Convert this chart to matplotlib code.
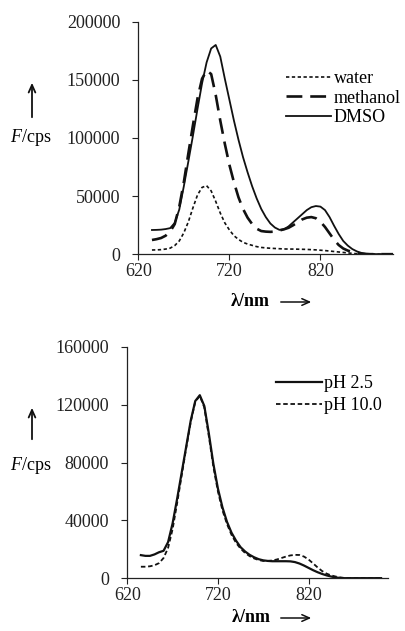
import numpy as np
import matplotlib
matplotlib.use("Agg")
import matplotlib.pyplot as plt

plt.rcParams['font.family'] = ['Liberation Serif', 'DejaVu Serif']
plt.rcParams['mathtext.fontset'] = 'custom'
plt.rcParams['mathtext.rm'] = 'Liberation Serif'
plt.rcParams['mathtext.it'] = 'Liberation Serif:italic'
plt.rcParams['mathtext.bf'] = 'Liberation Serif:bold'
plt.rcParams['mathtext.bfit'] = 'Liberation Serif:italic:bold'

# wavelength grid (nm), 635 .. 900 every 5 nm
wl = np.arange(635, 901, 5)

# top panel: solvents
water = [3700, 3800, 4000, 4500, 5300, 7500, 11500, 18500, 28000, 40000,
         51000, 57500, 59000, 54500, 45500, 35500, 27000, 21000, 16000, 12800,
         10300, 8800, 7700, 6600, 5900, 5500, 5200, 5000, 4800, 4600,
         4500, 4500, 4400, 4300, 4200, 4000, 3800, 3500, 3200, 2800,
         2400, 2000, 1600, 1200, 800, 500, 300, 200, 100, 100,
         100, 100, 100, 100]
methanol = [12300, 13000, 14000, 16000, 19500, 26000, 41000, 62000, 87000, 111000,
            134000, 151000, 158000, 155000, 137000, 115000, 95000, 77000, 62000, 49000,
            39000, 31500, 26000, 22000, 20000, 19500, 19300, 19500, 20500, 21500,
            22800, 25000, 27500, 30000, 31500, 32000, 31000, 28000, 23500, 18000,
            12500, 8000, 5000, 3200, 2000, 1000, 500, 200, 100, 100,
            100, 100, 100, 100]
dmso = [20900, 21000, 21200, 21700, 22500, 27000, 38500, 58500, 80000, 102000,
        125000, 147000, 165000, 177000, 180000, 170000, 151000, 133000, 115000, 98500,
        83500, 70500, 58500, 48000, 39000, 32000, 26500, 23000, 21000, 21500,
        24000, 27500, 31000, 34500, 38000, 40500, 41500, 41000, 38000, 32000,
        24500, 17500, 11500, 7500, 4500, 2500, 1200, 500, 300, 200,
        100, 100, 100, 100]

# bottom panel: pH
ph25 = [16000, 15500, 15500, 16500, 18000, 19000, 25000, 38000, 55000, 73000,
        91000, 109000, 122500, 126500, 119000, 100000, 79000, 62000, 49000, 39000,
        31500, 26000, 21500, 18500, 16200, 14500, 13200, 12400, 12000, 11800,
        11800, 11800, 11800, 11700, 11200, 10200, 8800, 7200, 5600, 4200,
        3000, 2000, 1200, 600, 200, 100, 100, 100, 100, 100,
        100, 100, 100, 100]
ph10 = [8000, 8000, 8300, 9000, 10500, 14000, 21000, 34000, 52000, 71000,
        90000, 108000, 122000, 126000, 118000, 98000, 77000, 60000, 47000, 37500,
        30000, 24500, 20500, 17500, 15300, 13700, 12600, 12000, 12000, 12300,
        13000, 14000, 15000, 15800, 16200, 16100, 15000, 13000, 10300, 7500,
        5000, 3200, 2000, 1200, 600, 200, 100, 100, 100, 100,
        100, 100, 100, 100]

xticks = [620, 720, 820]
yticks_top = [0, 50000, 100000, 150000, 200000]
yticks_bot = [0, 40000, 80000, 120000, 160000]

W, H = 406, 631
fs = 13
fig = plt.figure(figsize=(W / 100, H / 100), dpi=100)


def fx(px):
    return px / W


def fy(py):
    return 1 - py / H


def style(ax, yticks, xmax):
    ax.set_xlim(620, xmax)
    ax.set_ylim(0, yticks[-1])
    ax.set_xticks(xticks)
    ax.set_yticks(yticks)
    ax.set_yticklabels([str(v) for v in yticks])
    for s in ['top', 'right']:
        ax.spines[s].set_visible(False)
    for s in ['left', 'bottom']:
        ax.spines[s].set_linewidth(0.9)
        ax.spines[s].set_color('#222222')
    ax.tick_params(direction='out', length=4, width=0.8, labelsize=fs,
                   colors='#222222')
    ax.tick_params(axis='y', pad=9)
    ax.tick_params(axis='x', pad=2.5)


def axis_text(yl, ya0, ya1, xl, yx):
    # F/cps label with up arrow, lambda/nm label with right arrow
    fig.text(fx(31), fy(yl), r'$\mathit{F}$/cps', fontsize=fs, ha='center', va='center')
    fig.patches.append(matplotlib.patches.FancyArrowPatch(
        (fx(32), fy(ya0)), (fx(32), fy(ya1)), transform=fig.transFigure,
        arrowstyle='->,head_length=0.45,head_width=0.2', lw=1.3, color='#111111',
        mutation_scale=12))
    fig.text(fx(xl), fy(yx), r'$\mathbf{\lambda}$/nm', fontsize=fs, ha='center', va='center',
             fontweight='bold')
    fig.patches.append(matplotlib.patches.FancyArrowPatch(
        (fx(278), fy(yx + 1)), (fx(314), fy(yx + 1)), transform=fig.transFigure,
        arrowstyle='->,head_length=0.45,head_width=0.2', lw=1.1, color='#111111',
        mutation_scale=12))


# top panel
ax1 = fig.add_axes([fx(138.3), fy(254.3), fx(255), 232.6 / H])
ax1.plot(wl, water, color='#111111', lw=1.2, dashes=(2, 1.5), label='water')
ax1.plot(wl, methanol, color='#111111', lw=1.9, dashes=(6, 3), label='methanol')
ax1.plot(wl, dmso, color='#111111', lw=1.3, label='DMSO')
style(ax1, yticks_top, 900)
ax1.legend(loc='upper left', bbox_to_anchor=(fx(286), fy(70)), bbox_transform=fig.transFigure,
           frameon=False, fontsize=fs, handlelength=2.5, handletextpad=0.15,
           labelspacing=0.14, borderaxespad=0, borderpad=0)
axis_text(138, 120, 80, 250, 301)

# bottom panel
ax2 = fig.add_axes([fx(127.3), fy(578.3), fx(261), 231.6 / H])
ax2.plot(wl, ph25, color='#111111', lw=1.6, label='pH 2.5')
ax2.plot(wl, ph10, color='#111111', lw=1.3, dashes=(2.5, 1.5), label='pH 10.0')
style(ax2, yticks_bot, 908)
ax2.legend(loc='upper left', bbox_to_anchor=(fx(276), fy(375)), bbox_transform=fig.transFigure,
           frameon=False, fontsize=fs, handlelength=2.55, handletextpad=0.1,
           labelspacing=0.28, borderaxespad=0, borderpad=0)
axis_text(466, 442, 405, 251, 617)

fig.savefig('out.png', dpi=100)
